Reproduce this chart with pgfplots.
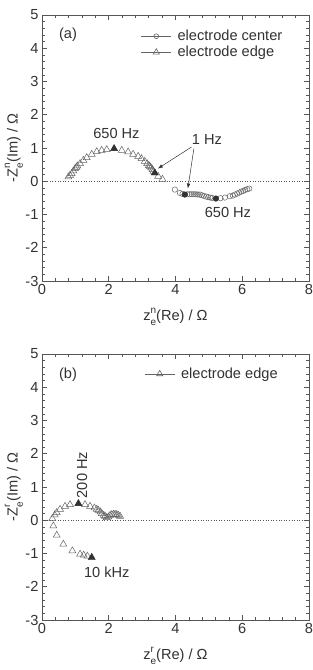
\documentclass[border=0pt]{standalone}
\usepackage{fontspec}
\setmainfont{Liberation Sans}
\usepackage{pgfplots}
\pgfplotsset{compat=1.18}
\usetikzlibrary{arrows.meta}
\definecolor{axg}{RGB}{85,85,85}
\definecolor{txt}{RGB}{50,50,50}
\definecolor{mk}{RGB}{100,100,100}
\newcommand{\fs}{\fontsize{14.6}{17}\selectfont}
\newcommand{\subsup}[2]{\rlap{\raisebox{0.95ex}{\fontsize{10}{10}\selectfont #2}}\raisebox{-0.7ex}{\fontsize{10}{10}\selectfont #1}}
\pgfplotsset{myaxis/.style={
  width=267pt, height=266pt, scale only axis,
  xmin=0,xmax=8,ymin=-3,ymax=5,
  xtick={0,2,...,8}, ytick={-3,...,5},
  minor x tick num=4, minor y tick num=4,
  tick align=inside, major tick length=5pt, minor tick length=3pt,
  axis line style={axg, line width=0.9pt},
  every tick/.style={axg, line width=0.6pt},
  tick label style={font=\fs, text=txt},
  label style={font=\fs, text=txt},
  xlabel style={yshift=-6pt},
  every axis y label/.style={at={(axis description cs:-0.105,0.5)}, rotate=90, anchor=center, font=\fs, text=txt},
  /pgf/number format/assume math mode=true,
  legend style={draw=none, fill=none, font=\fs, text=txt, anchor=west, inner sep=0pt, cells={anchor=west},
    /tikz/every odd column/.append style={column sep=4pt}},
  legend image code/.code={\draw[mark repeat=2,mark phase=2,#1] plot coordinates {(0pt,0pt)(15pt,0pt)(30pt,0pt)};},
}}
\begin{document}
\begin{tikzpicture}
\path[use as bounding box] (-42pt,281pt) rectangle (271pt,-389pt);
% ---------- (a) ----------
\begin{axis}[myaxis, at={(0,0)}, anchor=south west,
  xlabel={z\subsup{e}{n}(Re) / Ω},
  ylabel={-Z\subsup{e}{n}(Im) / Ω},
  legend style={at={(0.37,0.89)}}]
\addplot[axg, dotted, line width=0.6pt, forget plot] coordinates {(0,0) (8,0)};
\addlegendimage{mk, line width=0.6pt, mark=o, mark size=2.4pt, mark options={solid}}
\addlegendentry{electrode center}
\addlegendimage{mk, line width=0.6pt, mark=triangle, mark size=3.6pt, mark options={solid}}
\addlegendentry{electrode edge}
% electrode center
\addplot[only marks, mark=o, mark size=2.7pt, mk, line width=0.5pt, forget plot] coordinates {
(3.98,-0.25)(4.13,-0.35)(4.21,-0.38)(4.28,-0.40)(4.36,-0.39)(4.43,-0.39)(4.49,-0.39)(4.55,-0.39)(4.61,-0.39)(4.67,-0.40)(4.73,-0.40)(4.79,-0.42)(4.85,-0.44)(4.92,-0.46)(4.98,-0.48)(5.04,-0.49)(5.10,-0.50)(5.21,-0.52)(5.35,-0.51)(5.48,-0.49)(5.63,-0.45)(5.72,-0.43)(5.78,-0.40)(5.85,-0.37)(5.91,-0.34)(5.97,-0.31)(6.03,-0.29)(6.09,-0.26)(6.15,-0.24)(6.21,-0.22)
};
\addplot[only marks, mark=*, mark size=2.7pt, txt, forget plot] coordinates {(4.28,-0.40)(5.21,-0.52)};
% electrode edge
\addplot[only marks, mark=triangle, mark size=4pt, mk, line width=0.5pt, forget plot] coordinates {
(0.79,0.13)(0.84,0.18)(0.89,0.23)(0.94,0.31)(0.99,0.38)(1.03,0.42)(1.06,0.46)(1.14,0.53)(1.24,0.63)(1.34,0.71)(1.49,0.81)(1.64,0.89)(1.79,0.93)(1.94,0.95)(2.16,0.98)(2.39,0.93)(2.58,0.88)(2.73,0.81)(2.88,0.75)(2.98,0.68)(3.08,0.60)(3.15,0.53)(3.20,0.47)(3.23,0.45)(3.27,0.40)(3.31,0.35)(3.34,0.30)(3.38,0.25)(3.48,0.15)(3.61,0.06)
};
\addplot[only marks, mark=triangle*, mark size=4pt, txt, forget plot] coordinates {(2.16,0.98)(3.38,0.25)};
\node[font=\fs, text=txt] at (axis cs:0.78,4.42) {(a)};
\node[font=\fs, text=txt] at (axis cs:2.23,1.44) {650 Hz};
\node[font=\fs, text=txt] at (axis cs:4.94,1.25) {1 Hz};
\node[font=\fs, text=txt] at (axis cs:5.57,-0.94) {650 Hz};
\draw[-{Latex[length=5pt,width=3.5pt]}, txt, line width=0.5pt] (axis cs:4.48,1.03) -- (axis cs:3.47,0.38);
\draw[-{Latex[length=5pt,width=3.5pt]}, txt, line width=0.5pt] (axis cs:4.55,0.98) -- (axis cs:4.37,-0.22);
\end{axis}
% ---------- (b) ----------
\begin{axis}[myaxis, at={(0,-339pt)}, anchor=south west,
  xlabel={z\subsup{e}{r}(Re) / Ω},
  ylabel={-Z\subsup{e}{r}(Im) / Ω},
  legend style={at={(0.383,0.925)}}]
\addplot[axg, dotted, line width=0.6pt, forget plot] coordinates {(0,0) (8,0)};
\addlegendimage{mk, line width=0.6pt, mark=triangle, mark size=3.6pt, mark options={solid}}
\addlegendentry{electrode edge}
\addplot[only marks, mark=triangle, mark size=4pt, mk, line width=0.5pt, forget plot] coordinates {
(1.49,-1.12)(1.36,-1.08)(1.25,-1.05)(1.14,-1.02)(0.91,-0.92)(0.64,-0.72)(0.44,-0.45)(0.34,-0.17)(0.31,0.05)(0.38,0.16)(0.44,0.23)(0.54,0.33)(0.69,0.42)(0.84,0.47)(1.09,0.50)(1.29,0.47)(1.44,0.42)(1.57,0.37)(1.64,0.33)(1.69,0.30)(1.75,0.25)(1.79,0.20)(1.85,0.15)(1.89,0.12)(1.94,0.08)(1.99,0.10)(2.04,0.15)(2.09,0.17)(2.14,0.18)(2.19,0.18)(2.24,0.17)(2.29,0.15)(2.34,0.12)
};
\addplot[only marks, mark=triangle*, mark size=4pt, txt, forget plot] coordinates {(1.49,-1.12)(1.09,0.50)};
\node[font=\fs, text=txt] at (axis cs:0.78,4.39) {(b)};
\node[font=\fs, text=txt, rotate=90] at (axis cs:1.2,1.36) {200 Hz};
\node[font=\fs, text=txt] at (axis cs:1.94,-1.55) {10 kHz};
\end{axis}
\end{tikzpicture}
\end{document}
